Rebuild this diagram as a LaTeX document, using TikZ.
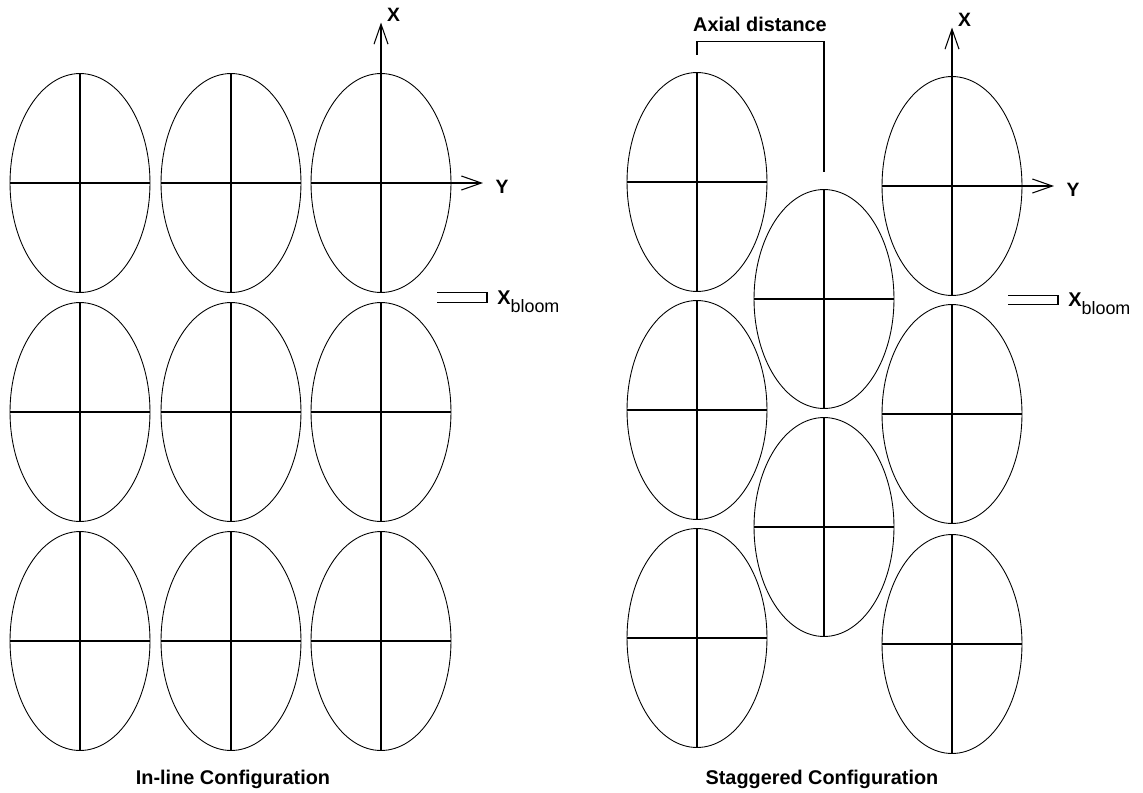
\documentclass[tikz,border=0pt]{standalone}
\usepackage{fontspec}
\setmainfont{Liberation Sans}
\usetikzlibrary{arrows.meta,positioning,calc,shapes.geometric}

\tikzset{
  tube/.style={draw,ellipse,line width=0.5pt,minimum width=2.8cm,minimum height=4.38cm,inner sep=0pt,outer sep=0pt},
  cross/.style={line width=0.6pt},
  axis/.style={line width=0.6pt,-{Straight Barb[length=4mm,width=2.8mm]}},
  lbl/.style={font=\bfseries\fontsize{11.3pt}{13pt}\selectfont,inner sep=0pt},
  axlbl/.style={font=\bfseries\fontsize{11pt}{13pt}\selectfont,inner sep=0pt},
}
\newcommand{\bloomlbl}{{\bfseries X}\raisebox{-0.16cm}{\mdseries\fontsize{10.2pt}{12pt}\selectfont bloom}}

\begin{document}
\begin{tikzpicture}[x=0.02cm,y=-0.02cm]
  \fill[white] (0,0) rectangle (1143,792);
  \useasboundingbox (0,0) rectangle (1143,792);
  % in-line rows
  \foreach \r/\y in {1/183,2/412,3/641}
    \foreach \c/\x in {1/80,2/231,3/381}{
      \node[tube] (a\r\c) at (\x,\y) {};
      \draw[cross] (a\r\c.north) -- (a\r\c.south);
      \draw[cross] (a\r\c.west) -- (a\r\c.east);
    }
  % staggered rows
  \foreach \n/\x/\y in {s11/697/182,s21/697/410,s31/697/638,m1/824/299,m2/824/527,s13/952/186,s23/952/414,s33/952/644}{
    \node[tube] (\n) at (\x,\y) {};
    \draw[cross] (\n.north) -- (\n.south);
    \draw[cross] (\n.west) -- (\n.east);
  }
  % axes
  \coordinate (xtipL) at ($(a13.north)+(0,-51)$);
  \coordinate (ytipL) at ($(a13.east)+(32,0)$);
  \draw[axis] (a13.north) -- (xtipL);
  \draw[axis] (a13.east) -- (ytipL);
  \node[axlbl] (xlblL) at ($(xtipL)+(12.5,-7.5)$) {X};
  \node[axlbl] (ylblL) at ($(ytipL)+(19,3.5)$) {Y};
  \coordinate (xtipR) at ($(s13.north)+(0,-49)$);
  \coordinate (ytipR) at ($(s13.east)+(32,0)$);
  \draw[axis] (s13.north) -- (xtipR);
  \draw[axis] (s13.east) -- (ytipR);
  \node[axlbl] (xlblR) at ($(xtipR)+(12.5,-7.5)$) {X};
  \node[axlbl] (ylblR) at ($(ytipR)+(19,3.5)$) {Y};
  % bloom gaps
  \coordinate (blL1) at ($(a13.south)+(56,0)$);
  \coordinate (blL2) at ($(a23.north)+(56,0)$);
  \draw[cross] (blL1) -- ++(50,0) |- (blL2);
  \node[lbl,anchor=base west] (bloomL) at ($(blL2)+(60,2)$) {\bloomlbl};
  \coordinate (blR1) at ($(s13.south)+(56,0)$);
  \coordinate (blR2) at ($(s23.north)+(56,0)$);
  \draw[cross] (blR1) -- ++(50,0) |- (blR2);
  \node[lbl,anchor=base west] (bloomR) at ($(blR2)+(60,2)$) {\bloomlbl};
  % axial distance
  \coordinate (ad1) at ($(s11.north)+(0,-18)$);
  \coordinate (ad2) at ($(m1.north)+(0,-18)$);
  \draw[cross] (ad1) -- ++(0,-13) -| (ad2);
  \node[lbl,anchor=base] (adlbl) at (760,31) {Axial distance};
  % captions
  \node[lbl,anchor=base] (capL) at (233,784) {In-line Configuration};
  \node[lbl,anchor=base] (capR) at (822,784) {Staggered Configuration};
\end{tikzpicture}
\end{document}
